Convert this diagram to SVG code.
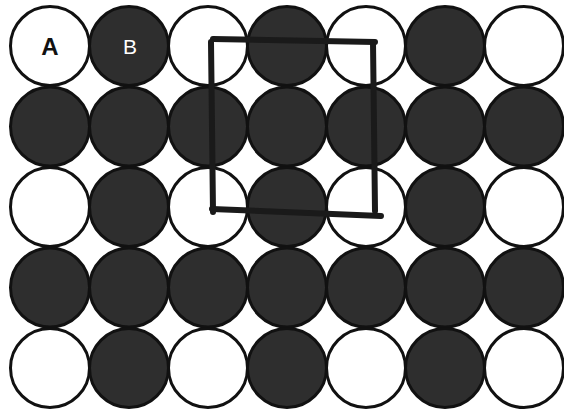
<svg xmlns="http://www.w3.org/2000/svg" width="564" height="412" viewBox="0 0 564 412">
<style>
.w{fill:#fff;stroke:#111;stroke-width:3}
.d{fill:#2e2e2e;stroke:#111;stroke-width:3}
.pen{fill:none;stroke:#1a1a1a;stroke-width:6;stroke-linecap:round;stroke-linejoin:round}
.lbl{font-family:"Liberation Sans",Arial,sans-serif;text-anchor:middle}
</style>
<rect width="564" height="412" fill="#fff"/>
<g id="circles">
<g id="row1">
<circle class="w" cx="50" cy="46" r="39.5"/><circle class="d" cx="129" cy="46" r="39.5"/><circle class="w" cx="208" cy="46" r="39.5"/><circle class="d" cx="287" cy="46" r="39.5"/><circle class="w" cx="366" cy="46" r="39.5"/><circle class="d" cx="445" cy="46" r="39.5"/><circle class="w" cx="524" cy="46" r="39.5"/>
</g>
<g id="row2">
<circle class="d" cx="50" cy="126.5" r="39.5"/><circle class="d" cx="129" cy="126.5" r="39.5"/><circle class="d" cx="208" cy="126.5" r="39.5"/><circle class="d" cx="287" cy="126.5" r="39.5"/><circle class="d" cx="366" cy="126.5" r="39.5"/><circle class="d" cx="445" cy="126.5" r="39.5"/><circle class="d" cx="524" cy="126.5" r="39.5"/>
</g>
<g id="row3">
<circle class="w" cx="50" cy="207" r="39.5"/><circle class="d" cx="129" cy="207" r="39.5"/><circle class="w" cx="208" cy="207" r="39.5"/><circle class="d" cx="287" cy="207" r="39.5"/><circle class="w" cx="366" cy="207" r="39.5"/><circle class="d" cx="445" cy="207" r="39.5"/><circle class="w" cx="524" cy="207" r="39.5"/>
</g>
<g id="row4">
<circle class="d" cx="50" cy="287.5" r="39.5"/><circle class="d" cx="129" cy="287.5" r="39.5"/><circle class="d" cx="208" cy="287.5" r="39.5"/><circle class="d" cx="287" cy="287.5" r="39.5"/><circle class="d" cx="366" cy="287.5" r="39.5"/><circle class="d" cx="445" cy="287.5" r="39.5"/><circle class="d" cx="524" cy="287.5" r="39.5"/>
</g>
<g id="row5">
<circle class="w" cx="50" cy="368" r="39.5"/><circle class="d" cx="129" cy="368" r="39.5"/><circle class="w" cx="208" cy="368" r="39.5"/><circle class="d" cx="287" cy="368" r="39.5"/><circle class="w" cx="366" cy="368" r="39.5"/><circle class="d" cx="445" cy="368" r="39.5"/><circle class="w" cx="524" cy="368" r="39.5"/>
</g>
</g>
<g id="labels">
<text class="lbl" x="50" y="55" font-size="24" font-weight="bold" fill="#111">A</text>
<text class="lbl" x="130" y="54" font-size="21" fill="#fff">B</text>
</g>
<g id="square">
<path class="pen" d="M213,39 L375,42"/>
<path class="pen" d="M211,42 L213,212"/>
<path class="pen" d="M212,209 L381,216"/>
<path class="pen" d="M373,42 L375,211"/>
</g>
</svg>
